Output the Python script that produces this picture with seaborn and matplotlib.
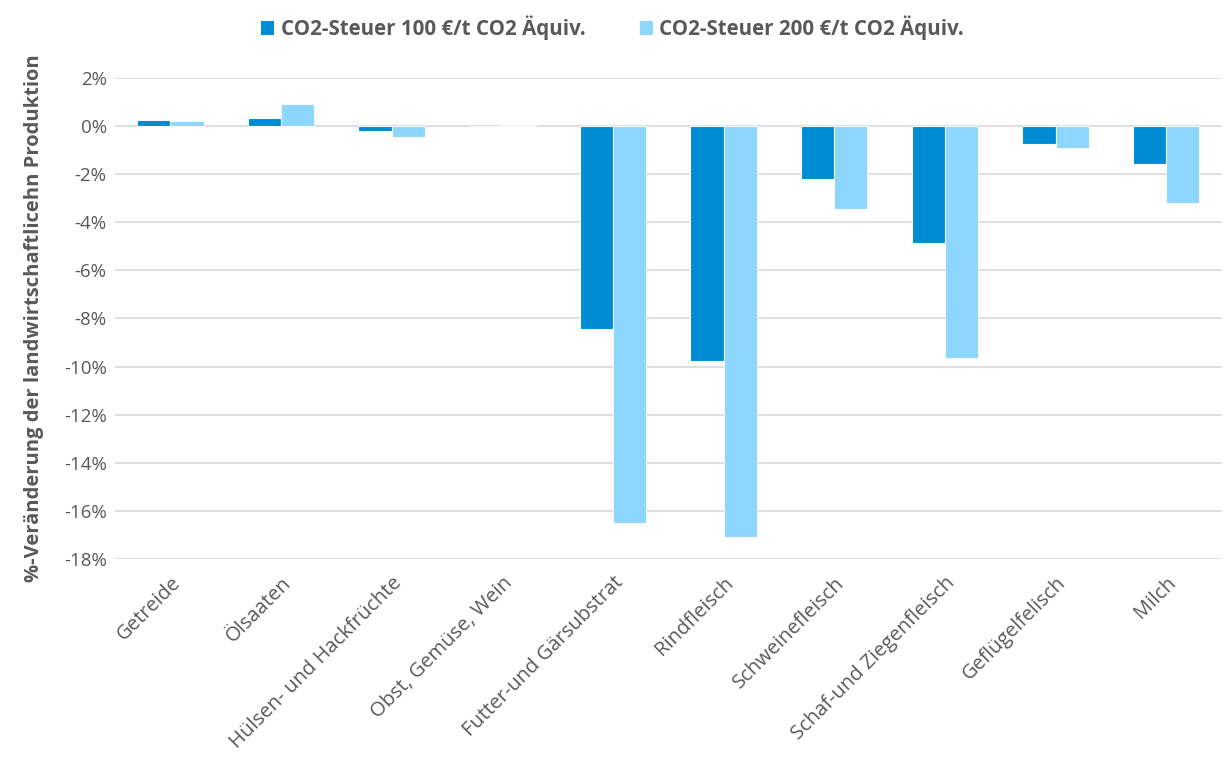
"""Veränderung der landwirtschaftlichen Produktion bei CO2-Steuer"""
import pandas as pd
import matplotlib
matplotlib.use('Agg')
import matplotlib.pyplot as plt
import seaborn as sns
from matplotlib.ticker import FuncFormatter

categories = ['Getreide', 'Ölsaaten', 'Hülsen- und Hackfrüchte', 'Obst, Gemüse, Wein',
              'Futter-und Gärsubstrat', 'Rindfleisch', 'Schweinefleisch',
              'Schaf-und Ziegenfleisch', 'Geflügelfelisch', 'Milch']
steuer_100 = [0.25, 0.33, -0.2, 0.01, -8.45, -9.75, -2.2, -4.85, -0.75, -1.6]
steuer_200 = [0.2, 0.9, -0.45, 0.02, -16.5, -17.1, -3.45, -9.65, -0.9, -3.2]
series_names = ['CO2-Steuer 100 €/t CO2 Äquiv.', 'CO2-Steuer 200 €/t CO2 Äquiv.']
colors = ['#008CD4', '#8DD7FF']

df = pd.DataFrame({
    'Kategorie': categories * 2,
    'Wert': steuer_100 + steuer_200,
    'Szenario': [series_names[0]] * len(categories) + [series_names[1]] * len(categories),
})

sns.set_style('white')
plt.rcParams['font.family'] = ['Open Sans', 'DejaVu Sans']
text_color = '#595959'

fig = plt.figure(figsize=(12.24, 7.59), dpi=100)
ax = fig.add_axes([0.094, 0.2635, 0.904, 0.634])

sns.barplot(data=df, x='Kategorie', y='Wert', hue='Szenario', palette=colors,
            saturation=1, width=0.6, edgecolor='#F4F9FC', linewidth=0.8,
            ax=ax, zorder=3)

ax.set_ylim(-18, 2)
ax.set_yticks(range(-18, 3, 2))
ax.yaxis.set_major_formatter(FuncFormatter(lambda v, _: f'{int(v)}%'))
ax.grid(axis='y', color='#D9D9D9', linewidth=1.2, zorder=0)
ax.set_axisbelow(True)
for s in ax.spines.values():
    s.set_visible(False)

ax.tick_params(axis='y', length=0, labelsize=13.5, colors=text_color, pad=6)
ax.tick_params(axis='x', length=0, labelsize=14.5, colors=text_color, pad=10)
plt.setp(ax.get_xticklabels(), rotation=45, ha='right', rotation_mode='anchor')
ax.set_xlabel('')
ax.set_ylabel('%-Veränderung der landwirtschaftlicehn Produktion', fontsize=14.5,
              fontweight='bold', color=text_color, labelpad=14)

# legend centred on the figure, not the axes
handles, labels = ax.get_legend_handles_labels()
ax.legend(handles, labels, loc='center', bbox_to_anchor=(0.5, 0.964),
          bbox_transform=fig.transFigure, ncol=2,
          frameon=False, handlelength=0.7, handleheight=0.7, handletextpad=0.3,
          columnspacing=2.6, prop={'size': 14.8, 'weight': 'bold'}, labelcolor=text_color)

fig.savefig('out.png', dpi=100)
